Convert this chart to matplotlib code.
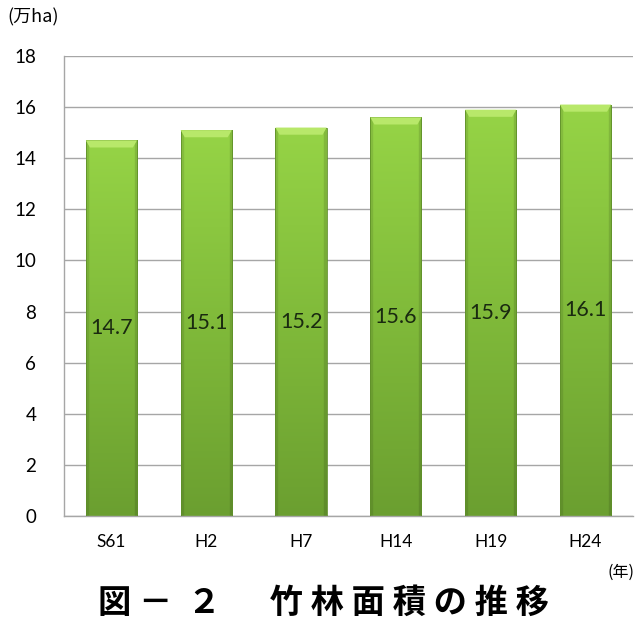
import numpy as np
import matplotlib
matplotlib.use("Agg")
import matplotlib.pyplot as plt
from matplotlib.colors import LinearSegmentedColormap

plt.rcParams['font.family'] = ['Lato', 'Noto Sans CJK JP', 'DejaVu Sans']

years = ["S61", "H2", "H7", "H14", "H19", "H24"]
area = [14.7, 15.1, 15.2, 15.6, 15.9, 16.1]
y_ticks = [0, 2, 4, 6, 8, 10, 12, 14, 16, 18]

fig = plt.figure(figsize=(6.4, 6.25), dpi=100)
ax = fig.add_axes([0.1, 0.1744, 0.889, 0.736])

x = np.arange(len(years))
bars = ax.bar(x, area, width=0.54, color='none', edgecolor='#5f8f2a', linewidth=0.6, zorder=3)

# vertical gradient, light at top and darker at bottom
green = LinearSegmentedColormap.from_list("g", ["#6b9f30", "#80ba3a", "#96d446"])
grad = np.linspace(0, 1, 256).reshape(-1, 1)
# darker edges across the width
side = np.ones((1, 64))
side[0, :4] = 0.9
side[0, -4:] = 0.88
for b in bars:
    bx, by = b.get_x(), b.get_y()
    w, h = b.get_width(), b.get_height()
    rgb = green(grad)[:, :, :3] * side[:, :, None]
    im = ax.imshow(rgb, extent=[bx, bx + w, 0, h], origin='lower', aspect='auto', zorder=2)
    im.set_clip_path(b)
    # top bevel
    ax.fill([bx, bx + w, bx + w - w * 0.08, bx + w * 0.08], [h, h, h - 0.28, h - 0.28],
            color='#b8e86a', zorder=3, linewidth=0)
    ax.text(b.get_x() + w / 2, h / 2, f"{h:.1f}", ha='center', va='center',
            fontsize=15.5, color='#1a2a10', zorder=4)

ax.set_xlim(-0.5, len(years) - 0.5)
ax.set_ylim(0, 18)
ax.set_yticks(y_ticks)
ax.set_yticklabels([str(t) for t in y_ticks], fontsize=13.5)
ax.set_xticks(x)
ax.set_xticklabels(years, fontsize=12.5)
ax.tick_params(length=0, pad=13)
ax.tick_params(axis='y', pad=20)
ax.yaxis.grid(True, color='#a6a6a6', linewidth=1.0, zorder=0)
ax.set_axisbelow(True)
for s in ['top', 'right']:
    ax.spines[s].set_visible(False)
for s in ['left', 'bottom']:
    ax.spines[s].set_color('#a6a6a6')
    ax.spines[s].set_linewidth(1.0)

fig.text(0.012, 0.972, "(万ha)", fontsize=13, ha='left', va='center',
         family=['Noto Sans CJK JP', 'DejaVu Sans'])
fig.text(0.992, 0.085, "(年)", fontsize=11.5, ha='right', va='center',
         family=['Noto Sans CJK JP', 'DejaVu Sans'])
fig.text(0.505, 0.035, "図 －  ２ 　 竹 林 面 積 の 推 移", fontsize=24, fontweight='bold',
         ha='center', va='center', family=['Noto Sans CJK JP', 'DejaVu Sans'])

fig.savefig("out.png", dpi=100)
